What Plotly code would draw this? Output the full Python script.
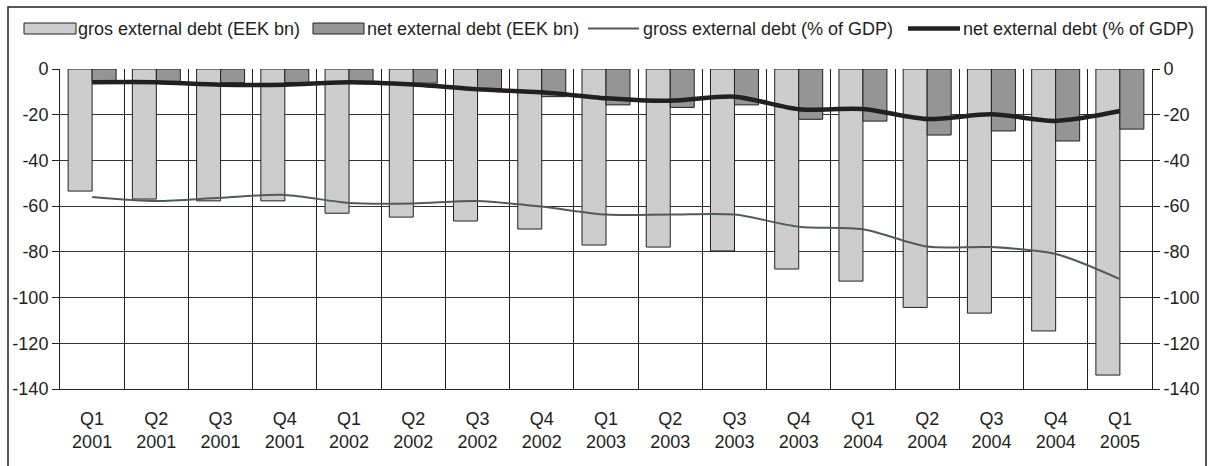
import plotly.graph_objects as go

# Quarterly external debt of Estonia, 2001-2005
quarters = ["Q1", "Q2", "Q3", "Q4", "Q1", "Q2", "Q3", "Q4", "Q1", "Q2", "Q3", "Q4",
            "Q1", "Q2", "Q3", "Q4", "Q1"]
years = ["2001", "2001", "2001", "2001", "2002", "2002", "2002", "2002",
         "2003", "2003", "2003", "2003", "2004", "2004", "2004", "2004", "2005"]
categories = [f"{q}<br>{y}" for q, y in zip(quarters, years)]

gross_eek_bn = [-53.4, -56.9, -57.7, -57.7, -63.1, -64.8, -66.5, -70.0, -77.0,
                -77.9, -79.6, -87.5, -92.8, -104.3, -106.8, -114.6, -133.9]
net_eek_bn = [-5.5, -5.5, -6.0, -6.0, -5.5, -6.2, -8.7, -12.1, -15.7,
              -16.8, -15.7, -22.0, -22.8, -28.9, -27.1, -31.5, -26.3]
gross_pct_gdp = [-56.0, -57.8, -56.3, -55.1, -58.6, -58.8, -57.8, -60.2, -63.7,
                 -63.7, -63.7, -69.0, -70.1, -77.7, -77.9, -80.9, -91.9]
net_pct_gdp = [-5.8, -5.8, -6.9, -6.9, -5.8, -6.8, -8.9, -10.2, -12.8,
               -13.9, -12.1, -17.6, -17.5, -21.9, -19.8, -22.7, -18.4]

y_ticks = [0, -20, -40, -60, -80, -100, -120, -140]

legend_labels = ["gros external debt (EEK bn)", "net external debt (EEK bn)",
                 "gross external debt (% of GDP)", "net external debt (% of GDP)"]

INK = "#231f20"
GROSS_BAR = "#cdcdcd"
NET_BAR = "#959595"
GROSS_LINE = "#4f5d5a"
FONT = "Liberation Sans, Arial, sans-serif"

W, H = 1211, 466
ML, MR, MT, MB = 60, 59, 69, 77
PW, PH = W - ML - MR, H - MT - MB


def px_x(x):
    return (x - ML) / PW


def px_y(y):
    return (H - MB - y) / PH


fig = go.Figure()

fig.add_trace(go.Bar(x=categories, y=gross_eek_bn, name=legend_labels[0],
                     marker=dict(color=GROSS_BAR, line=dict(color=INK, width=1))))
fig.add_trace(go.Bar(x=categories, y=net_eek_bn, name=legend_labels[1],
                     marker=dict(color=NET_BAR, line=dict(color=INK, width=1))))
fig.add_trace(go.Scatter(x=categories, y=gross_pct_gdp, name=legend_labels[2], yaxis="y2",
                         mode="lines", line=dict(color=GROSS_LINE, width=2,
                                                 shape="spline", smoothing=0.8)))
fig.add_trace(go.Scatter(x=categories, y=net_pct_gdp, name=legend_labels[3], yaxis="y2",
                         mode="lines", line=dict(color=INK, width=4.5,
                                                 shape="spline", smoothing=0.8)))

# Hand-placed legend row across the top
shapes = []
annotations = []
legend_items = [
    ("bar", GROSS_BAR, 24, 76, 76),
    ("bar", NET_BAR, 313, 364, 365),
    ("line", GROSS_LINE, 588, 639, 641),
    ("line", INK, 908, 960, 961),
]
for (kind, color, x0, x1, tx), label in zip(legend_items, legend_labels):
    if kind == "bar":
        shapes.append(dict(type="rect", xref="paper", yref="paper",
                           x0=px_x(x0), x1=px_x(x1), y0=px_y(34), y1=px_y(23),
                           fillcolor=color, line=dict(color=INK, width=1)))
    else:
        shapes.append(dict(type="line", xref="paper", yref="paper",
                           x0=px_x(x0), x1=px_x(x1), y0=px_y(28.5), y1=px_y(28.5),
                           line=dict(color=color, width=2 if color == GROSS_LINE else 4.5)))
    annotations.append(dict(text=label, xref="paper", yref="paper",
                            x=px_x(tx), y=px_y(29), xanchor="left", yanchor="middle",
                            showarrow=False, font=dict(size=18, color=INK, family=FONT)))

# Frame around the whole chart
shapes.append(dict(type="rect", xref="paper", yref="paper",
                   x0=px_x(8), x1=px_x(1206), y0=px_y(470), y1=px_y(7),
                   line=dict(color=INK, width=1.5), fillcolor="rgba(0,0,0,0)",
                   layer="below"))

axis_common = dict(range=[-140, 0], tickvals=y_ticks, ticktext=[str(v) for v in y_ticks],
                   ticks="outside", ticklen=7, tickcolor=INK,
                   tickfont=dict(size=18, color=INK, family=FONT))

fig.update_layout(
    width=W, height=H,
    margin=dict(l=ML, r=MR, t=MT, b=MB),
    paper_bgcolor="white", plot_bgcolor="white",
    barmode="group", bargap=0.253, bargroupgap=0,
    showlegend=False,
    font=dict(family=FONT, size=18, color=INK),
    xaxis=dict(type="category", tickson="boundaries", ticks="", showgrid=True,
               gridcolor=INK, gridwidth=1, showline=True, linecolor=INK, linewidth=1,
               tickfont=dict(size=18, color=INK, family=FONT), ticklabelstandoff=13),
    yaxis=dict(**axis_common, showgrid=True, gridcolor="#333333", gridwidth=1,
               zeroline=False, showline=True, linecolor=INK, linewidth=1),
    yaxis2=dict(**axis_common, overlaying="y", side="right", showgrid=False,
                zeroline=False, showline=True, linecolor=INK, linewidth=1),
    shapes=shapes,
    annotations=annotations,
)

fig.write_html("out.html")
